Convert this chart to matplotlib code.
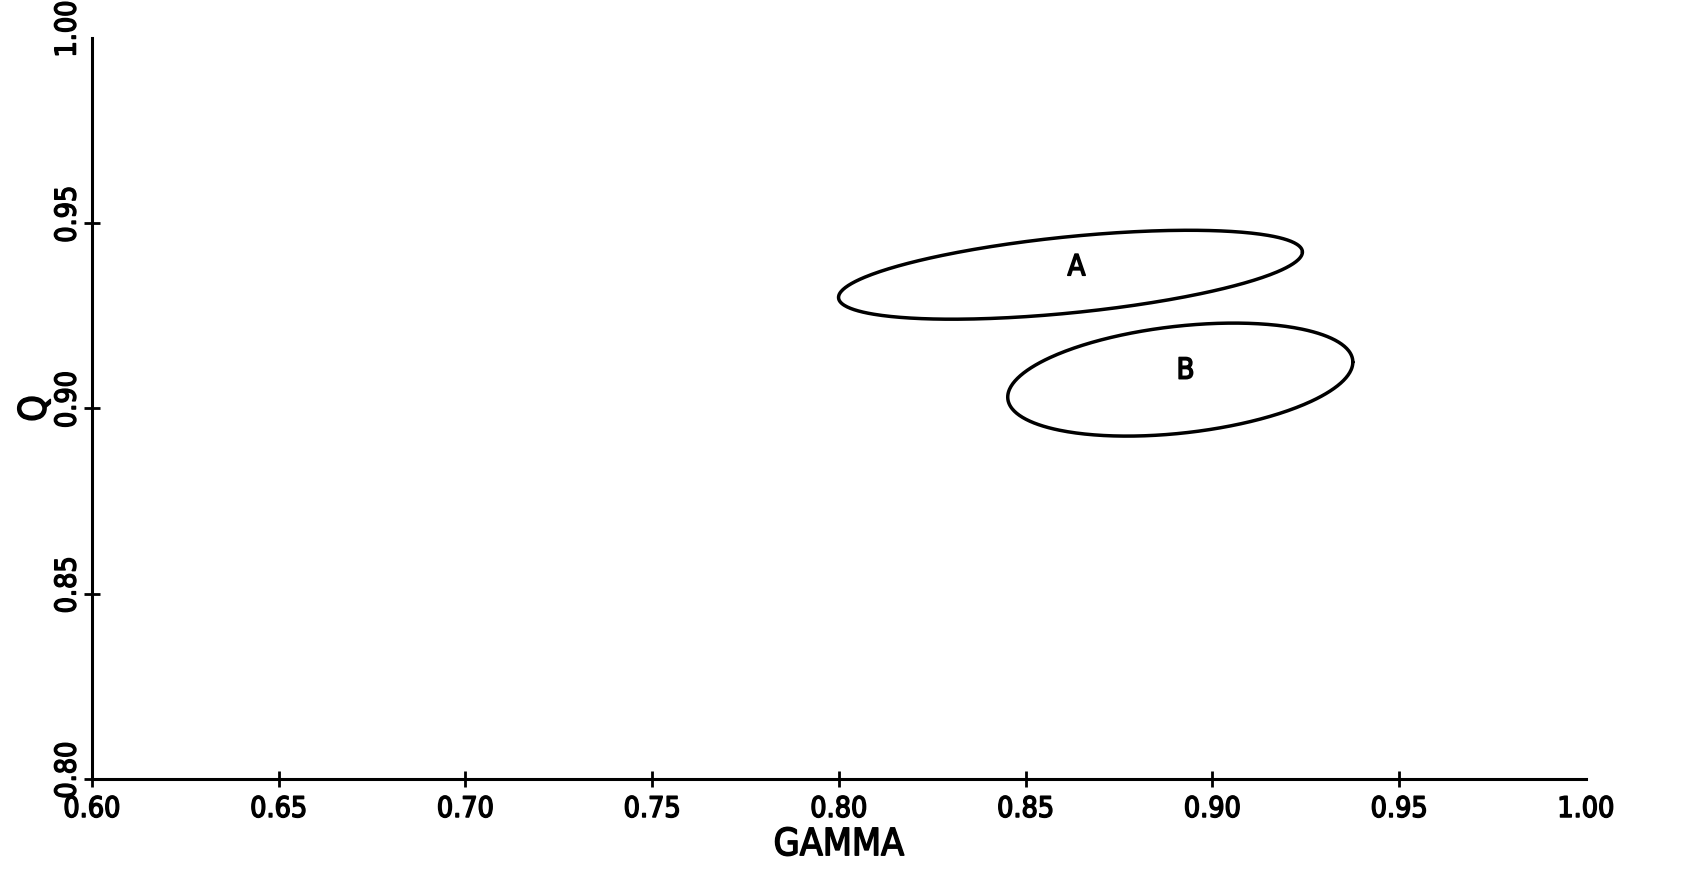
import numpy as np
import matplotlib
matplotlib.use("Agg")
import matplotlib.pyplot as plt
import matplotlib.patheffects as pe
from matplotlib import font_manager
from matplotlib.transforms import ScaledTranslation

# Confidence regions in the (GAMMA, Q) plane
region_labels = ["A", "B"]
gamma_center = [0.862, 0.8914]
q_center = [0.9361, 0.9078]
gamma_halfwidth = [0.0621, 0.0462]
q_halfwidth = [0.0120, 0.01525]
correlation = [0.51, 0.31]
label_gamma = [0.8636, 0.8928]
label_q = [0.9381, 0.9102]

x_ticks = [0.60, 0.65, 0.70, 0.75, 0.80, 0.85, 0.90, 0.95, 1.00]
y_ticks = [0.80, 0.85, 0.90, 0.95, 1.00]

# Prefer a narrow sans face for the plotter-style lettering
fonts = font_manager.fontManager.ttflist
names = {f.name for f in fonts}
stretch = "normal"
if "Liberation Sans Narrow" in names:
    family = "Liberation Sans Narrow"
elif any(f.name == "DejaVu Sans" and "Condensed" in f.fname for f in fonts):
    family, stretch = "DejaVu Sans", "condensed"
elif "Roboto Condensed" in names:
    family = "Roboto Condensed"
else:
    family = "Roboto"
plt.rcParams["font.family"] = [family, "DejaVu Sans"]
plt.rcParams["font.stretch"] = stretch

# pen-plotter lettering: thicken strokes without widening the glyphs
pen = [pe.withStroke(linewidth=1.1, foreground="black")]

fig = plt.figure(figsize=(16.9, 8.71), dpi=100)
ax = fig.add_axes([0.0544, 0.1056, 0.8840, 0.8508])

t = np.linspace(0, 2 * np.pi, 400)
circle = np.vstack([np.cos(t), np.sin(t)])
for lab, gx, qy, sx, sy, r, lx, ly in zip(region_labels, gamma_center, q_center,
                                          gamma_halfwidth, q_halfwidth, correlation,
                                          label_gamma, label_q):
    cov = np.array([[sx * sx, r * sx * sy], [r * sx * sy, sy * sy]])
    L = np.linalg.cholesky(cov)
    pts = L @ circle
    ax.plot(gx + pts[0], qy + pts[1], color="black", lw=2.5, solid_capstyle="round")
    ax.text(lx, ly, lab, ha="center", va="center", fontsize=21, color="black",
            path_effects=pen)

ax.set_xlim(0.60, 1.00)
ax.set_ylim(0.80, 1.00)
ax.set_xticks(x_ticks)
ax.set_yticks(y_ticks)
ax.set_xticklabels([f"{v:.2f}" for v in x_ticks])
ax.set_yticklabels([f"{v:.2f}" for v in y_ticks], rotation=90, va="center")

for s in ("top", "right"):
    ax.spines[s].set_visible(False)
for s in ("left", "bottom"):
    ax.spines[s].set_linewidth(2.2)

ax.tick_params(axis="both", direction="inout", length=11, width=2.0,
               labelsize=20.5, colors="black")
ax.tick_params(axis="x", pad=6)
ax.tick_params(axis="y", pad=2)
ax.xaxis.get_major_ticks()[-1].tick1line.set_visible(False)
ax.yaxis.get_major_ticks()[-1].tick1line.set_visible(False)

# vertical labels sit a little above their ticks
shift = ScaledTranslation(0, 0.09, fig.dpi_scale_trans)
for lbl in ax.get_yticklabels():
    lbl.set_transform(lbl.get_transform() + shift)
for lbl in ax.get_xticklabels() + ax.get_yticklabels():
    lbl.set_path_effects(pen)

ax.set_xlabel("GAMMA", fontsize=27, labelpad=3, path_effects=pen)
ax.set_ylabel("Q", fontsize=27, labelpad=0, path_effects=pen)

fig.savefig("out.png", dpi=100, facecolor="white")
